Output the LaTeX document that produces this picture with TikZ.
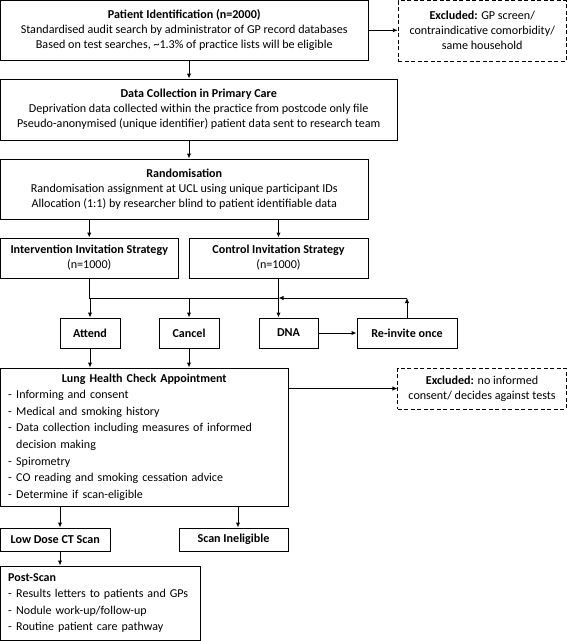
\documentclass[tikz,border=0pt]{standalone}
\usepackage{fontspec}
\setmainfont{Carlito}
\usetikzlibrary{arrows.meta,calc}
\newcommand{\dashitem}[1]{\makebox[8pt][l]{-}#1}
\begin{document}
\begin{tikzpicture}[x=1pt,y=1pt,
  every node/.style={font=\fontsize{12.1}{15}\selectfont},
  box/.style={draw,line width=1pt,inner sep=0pt,align=center},
  dbox/.style={box,dash pattern=on 4pt off 2.5pt},
  sz/.style 2 args={minimum width=#1pt,minimum height=#2pt},
  arr/.style={line width=1pt,-{Latex[length=5pt,width=4.5pt]}},
  ln/.style={line width=1pt}]
\useasboundingbox (0,0) rectangle (567,-641);
\node[box,sz={367.5}{59.5}] (pi) at (184.25,-30.25) {\textbf{Patient Identification (n=2000)}\\Standardised audit search by administrator of GP record databases\\Based on test searches, \textasciitilde1.3\% of practice lists will be eligible};
\node[dbox,sz={168}{60.5}] (ex1) at (482.25,-30.75) {\textbf{Excluded:} GP screen/\\contraindicative comorbidity/\\same household};
\node[box,sz={396.5}{61}] (dc) at (198.75,-109.5) {\textbf{Data Collection in Primary Care}\\Deprivation data collected within the practice from postcode only file\\Pseudo-anonymised (unique identifier) patient data sent to research team};
\node[box,sz={367.5}{60}] (rd) at (184.25,-189) {\textbf{Randomisation}\\Randomisation assignment at UCL using unique participant IDs\\Allocation (1:1) by researcher blind to patient identifiable data};
\node[box,sz={177.5}{40}] (iv) at (89.25,-258) {\textbf{Intervention Invitation Strategy}\\(n=1000)};
\node[box,sz={179}{40}] (ct) at (278.5,-258) {\textbf{Control Invitation Strategy}\\(n=1000)};
\node[box,sz={60}{30}] (at) at (90,-333) {\textbf{Attend}};
\node[box,sz={60}{30}] (cn) at (189,-333) {\textbf{Cancel}};
\node[box,sz={59}{30}] (dna) at (288.5,-333) {\textbf{DNA}};
\node[box,sz={100}{30}] (ri) at (407,-333) {\textbf{Re-invite once}};
\node[box,sz={287.5}{138},align=left,text width=272pt,font=\fontsize{12}{16.6}\selectfont] (lhc) at (144.25,-437) {\makebox[272pt]{\textbf{Lung Health Check Appointment}}\\\dashitem{Informing and consent}\\\dashitem{Medical and smoking history}\\\dashitem{Data collection including measures of informed}\\\hspace*{8pt}decision making\\\dashitem{Spirometry}\\\dashitem{CO reading and smoking cessation advice}\\\dashitem{Determine if scan-eligible}};
\node[dbox,sz={168.25}{41}] (ex2) at (482.1,-388.5) {\textbf{Excluded:} no informed\\consent/ decides against tests};
\node[box,sz={109.5}{23}] (ld) at (55.25,-539.5) {\textbf{Low Dose CT Scan}};
\node[box,sz={109}{23}] (si) at (233.5,-539.5) {\textbf{Scan Ineligible}};
\node[box,sz={199.5}{74.5},align=left,text width=184pt,font=\fontsize{12}{16.5}\selectfont] (ps) at (100.25,-603.25) {\textbf{Post-Scan}\\\dashitem{Results letters to patients and GPs}\\\dashitem{Nodule work-up/follow-up}\\\dashitem{Routine patient care pathway}};
\coordinate (xA) at (189,0);
\coordinate (bus) at (0,-298);
\coordinate (xL) at (60,0);
\coordinate (xS) at (238,0);
\draw[arr] (pi.east) -- (pi.east -| ex1.west);
\draw[arr] (pi.south -| xA) -- (dc.north -| xA);
\draw[arr] (dc.south -| xA) -- (rd.north -| xA);
\draw[arr] (rd.south -| iv) -- (iv.north);
\draw[arr] (rd.south -| ct) -- (ct.north);
\draw[ln] (iv.south) -- (iv.south |- bus) -- (bus -| ct);
\draw[arr] (ct.south) -- (ct.south |- dna.north);
\draw[arr] (bus -| at) -- (at.north);
\draw[arr] (bus -| cn) -- (cn.north);
\draw[arr] (ri.north) -- (ri.north |- bus);
\draw[arr] (ri.north |- bus) -- (bus -| ct);
\draw[arr] (dna.east) -- (ri.west);
\draw[arr] (at.south) -- (at.south |- lhc.north);
\draw[arr] (cn.south) -- (cn.south |- lhc.north);
\draw[arr] (lhc.east |- ex2.west) -- (ex2.west);
\draw[arr] (lhc.south -| xL) -- (ld.north -| xL);
\draw[arr] (lhc.south -| xS) -- (si.north -| xS);
\draw[arr] (ld.south -| xL) -- (ps.north -| xL);
\end{tikzpicture}
\end{document}
